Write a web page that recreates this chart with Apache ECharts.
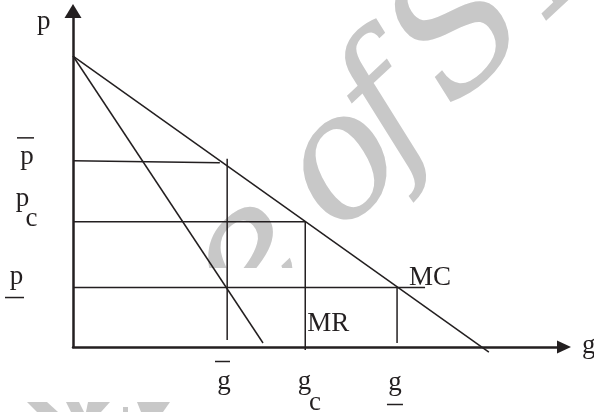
<!DOCTYPE html>
<html>
<head>
<meta charset="utf-8">
<script src="https://cdn.jsdelivr.net/npm/echarts@6/dist/echarts.min.js"></script>
<style>
html,body{margin:0;padding:0;background:#fff;}
#c{width:594px;height:412px;}
</style>
</head>
<body>
<div id="c"></div>
<script>
// ---------------- data ----------------
const intercept = [0, 86.6];          // common price intercept
const mcEnd = [84.7, -1.5];           // MC line end
const mrEnd = [38.7, 1.2];            // MR line end
const priceTicks = [55.4, 37.3, 17.7];            // p-bar, p_c, p-under
const priceLineEnds = [29.9, 47.3, 71.7];         // x where each price line stops
const priceLineRightY = [54.8, 37.3, 17.7];
const quantityTicks = [31.4, 47.3, 66.0];         // g-bar, g_c, g-under
const quantityLineTops = [56.0, 37.3, 17.7];
const quantityLineBottoms = [2.1, -0.9, 1.2];
const priceTickText = ['p', 'p', 'p'];
const priceTickSub = ['', 'c', ''];
const priceTickMark = ['over', '', 'under'];
const quantityTickText = ['g', 'g', 'g'];
const quantityTickSub = ['', 'c', ''];
const quantityTickMark = ['over', '', 'under'];
const axisNames = ['g', 'p'];
const curveNames = ['MC', 'MR'];
const watermarkGlyphs = ['e', '.', 'o', 'f', 'S', 'N'];

// ---------------- style ----------------
const INK = '#231f20';
const SERIF = '"Liberation Serif","Times New Roman",serif';
const WMFONT = '"DejaVu Serif","Liberation Serif",serif';
const FS = 27;
const MID = 9; // canvas middle baseline above alphabetic baseline at 27px

const chart = echarts.init(document.getElementById('c'), null, {renderer: 'canvas'});

function seg(a, b) {
  return {
    type: 'line', data: [a, b], symbol: 'none', clip: false, silent: true,
    animation: false, z: 3,
    lineStyle: {color: INK, width: 1.5}
  };
}

const series = [seg(intercept, mcEnd), seg(intercept, mrEnd)];
priceTicks.forEach((p, i) => series.push(seg([0, p], [priceLineEnds[i], priceLineRightY[i]])));
quantityTicks.forEach((g, i) => series.push(seg([g, quantityLineTops[i]], [g, quantityLineBottoms[i]])));

chart.setOption({
  animation: false,
  backgroundColor: '#fff',
  grid: {left: 73, right: 30, top: 11, bottom: 65, containLabel: false, outerBoundsMode: 'none'},
  xAxis: {
    type: 'value', min: 0, max: 100, z: 4,
    axisLine: {show: true, onZero: false, symbol: ['none', 'triangle'], symbolSize: [13, 14],
      lineStyle: {color: INK, width: 2.5}},
    axisTick: {show: false}, axisLabel: {show: false}, splitLine: {show: false}
  },
  yAxis: {
    type: 'value', min: 0, max: 100, z: 4,
    axisLine: {show: true, onZero: false, symbol: ['none', 'triangle'], symbolSize: [17, 14],
      lineStyle: {color: INK, width: 2.5}},
    axisTick: {show: false}, axisLabel: {show: false}, splitLine: {show: false}
  },
  series: series
});

const px = (x, y) => chart.convertToPixel({gridIndex: 0}, [x, y]);

function txt(str, x, baseline, align, z, font) {
  return {
    type: 'text', x: x, y: baseline - MID, z: z || 10, silent: true,
    style: {text: str, fill: INK, font: font || (FS + 'px ' + SERIF),
      textAlign: align || 'center', textVerticalAlign: 'middle', verticalAlign: 'middle'}
  };
}
function bar(x1, x2, y) {
  return {type: 'rect', z: 10, silent: true, shape: {x: x1, y: y - 0.75, width: x2 - x1, height: 1.5},
    style: {fill: INK}};
}

const g = [];

// ---- watermark ----
const WM = '#c8c8c8';
const wmLayout = [
  {x: 250, y: 262, s: 175},
  {x: 276, y: 272, s: 150},
  {x: 345, y: 168, s: 172},
  {x: 390, y: 116, s: 170},
  {x: 464, y: 36, s: 175},
  {x: 572, y: -62, s: 165}
];
watermarkGlyphs.forEach((ch, i) => {
  const L = wmLayout[i];
  g.push({type: 'text', x: L.x, y: L.y, rotation: 0.75, z: 0, silent: true,
    style: {text: ch, fill: WM, font: 'italic ' + L.s + 'px ' + WMFONT,
      textAlign: 'center', textVerticalAlign: 'middle', verticalAlign: 'middle'}});
});
// white band hiding the watermark behind the lower part of the diagram
g.push({type: 'rect', z: 1, silent: true, shape: {x: 0, y: 268, width: 594, height: 133}, style: {fill: '#fff'}});
// tops of the next watermark line
[
  [[27, 402], [47, 402], [58, 412], [37, 412]],
  [[66, 402], [79, 402], [84, 412], [71, 412]],
  [[88, 402], [110, 402], [101, 412], [86, 412]],
  [[123, 407], [128, 407], [128, 412], [123, 412]],
  [[137, 402], [170, 402], [163, 412], [141, 412]]
].forEach(pts => g.push({type: 'polygon', z: 0, silent: true, shape: {points: pts}, style: {fill: WM}}));

// ---- price tick labels (left of the p axis) ----
const priceLabelLayout = [
  {x: 27, dy: 5, subX: 0, subDy: 0, markX: [17, 34], markDy: -23},
  {x: 22.5, dy: -14.2, subX: 31.5, subDy: 6.3, markX: null, markDy: 0},
  {x: 16.5, dy: -2, subX: 0, subDy: 0, markX: [5, 24], markDy: 10}
];
priceTicks.forEach((p, i) => {
  const y0 = px(0, p)[1];
  const L = priceLabelLayout[i];
  g.push(txt(priceTickText[i], L.x, y0 + L.dy));
  if (priceTickSub[i]) g.push(txt(priceTickSub[i], L.subX, y0 + L.subDy));
  if (priceTickMark[i]) g.push(bar(L.markX[0], L.markX[1], y0 + L.markDy));
});

// ---- quantity tick labels (below the g axis) ----
const qLabelLayout = [
  {dx: -3.2, base: 391, subDx: 0, subBase: 0, markDx: [-12.2, 2.8], markY: 361.5},
  {dx: -0.7, base: 391, subDx: 9.8, subBase: 412, markDx: null, markY: 0},
  {dx: -2.1, base: 392, subDx: 0, subBase: 0, markDx: [-10.1, 5.9], markY: 404.5}
];
quantityTicks.forEach((q, i) => {
  const x0 = px(q, 0)[0];
  const L = qLabelLayout[i];
  g.push(txt(quantityTickText[i], x0 + L.dx, L.base));
  if (quantityTickSub[i]) g.push(txt(quantityTickSub[i], x0 + L.subDx, L.subBase));
  if (quantityTickMark[i]) g.push(bar(x0 + L.markDx[0], x0 + L.markDx[1], L.markY));
});

// ---- axis names ----
const xEnd = px(100, 0), yEnd = px(0, 100);
g.push(txt(axisNames[0], xEnd[0] + 18, xEnd[1] + 7.5, 'left'));
g.push(txt(axisNames[1], yEnd[0] - 36, yEnd[1] + 19.5, 'left'));

// ---- curve names ----
const mcAnchor = px(quantityTicks[2], priceTicks[2]);
g.push(txt(curveNames[0], mcAnchor[0] + 12, mcAnchor[1] - 0.5, 'left'));
const mrAnchor = px(quantityTicks[1], 0);
g.push(txt(curveNames[1], mrAnchor[0] + 2, mrAnchor[1] - 14, 'left'));

chart.setOption({graphic: {elements: g}});
</script>
</body>
</html>
